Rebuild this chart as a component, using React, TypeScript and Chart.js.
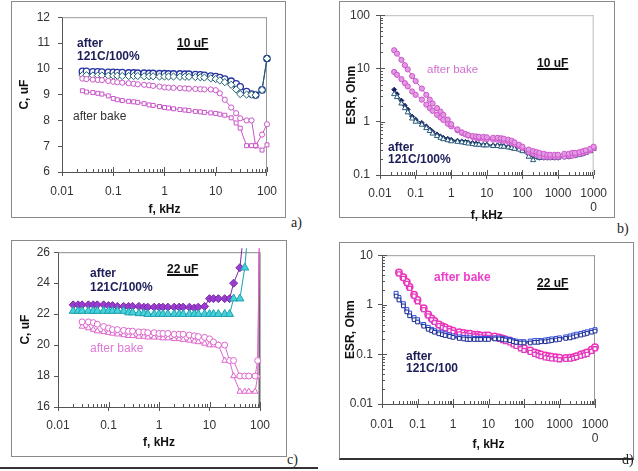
import { useEffect, useRef } from 'react'
import { Chart, registerables } from 'chart.js'
import type { Plugin } from 'chart.js'

Chart.register(...registerables)
Chart.defaults.font.family = '"Liberation Sans", Arial, sans-serif'

// ---- data (frequency in kHz) ----
const FREQ_C10 = [0.025, 0.03, 0.04, 0.05, 0.06, 0.08, 0.1, 0.12, 0.15, 0.2, 0.25, 0.3, 0.4, 0.5, 0.6, 0.8, 1, 1.2, 1.5, 2, 2.5, 3, 4, 5, 6, 8, 10, 12, 15, 20, 25, 30, 40, 50, 60, 80, 100]
const C10_121C_1 = [9.9, 9.9, 9.88, 9.88, 9.87, 9.86, 9.86, 9.85, 9.85, 9.84, 9.84, 9.83, 9.83, 9.82, 9.82, 9.81, 9.81, 9.8, 9.8, 9.8, 9.79, 9.79, 9.78, 9.77, 9.75, 9.72, 9.7, 9.66, 9.6, 9.52, 9.42, 9.3, 9.12, 9.02, 8.98, 9.18, 10.4]
const C10_121C_2 = [9.75, 9.75, 9.74, 9.74, 9.74, 9.73, 9.73, 9.73, 9.72, 9.72, 9.72, 9.72, 9.71, 9.71, 9.71, 9.7, 9.7, 9.7, 9.7, 9.69, 9.69, 9.69, 9.68, 9.67, 9.66, 9.63, 9.6, 9.55, 9.48, 9.38, 9.2, 9.02, 9.0, 9.0, 8.98, 9.18, 10.4]
const C10_BAKE_1 = [9.62, 9.6, 9.58, 9.57, 9.56, 9.53, 9.5, 9.48, 9.46, 9.44, 9.42, 9.4, 9.38, 9.36, 9.34, 9.31, 9.28, 9.27, 9.26, 9.25, 9.24, 9.23, 9.22, 9.21, 9.2, 9.2, 9.17, 9.05, 8.8, 8.5, 8.28, 8.08, 8.0, 8.0, 7.02, 7.45, 7.85]
const C10_BAKE_2 = [9.15, 9.1, 9.08, 9.05, 9.02, 8.95, 8.85, 8.8, 8.77, 8.74, 8.72, 8.7, 8.65, 8.6, 8.58, 8.54, 8.5, 8.48, 8.45, 8.42, 8.4, 8.38, 8.35, 8.33, 8.31, 8.29, 8.27, 8.24, 8.2, 8.1, 7.9, 7.7, 7.02, 7.02, 7.02, 6.85, 7.05]

const FREQ_ESR = [0.025, 0.03, 0.04, 0.05, 0.06, 0.08, 0.1, 0.15, 0.2, 0.25, 0.3, 0.4, 0.5, 0.6, 0.8, 1, 1.5, 2, 2.5, 3, 4, 5, 6, 8, 10, 15, 20, 25, 30, 40, 50, 60, 80, 100, 150, 200, 250, 300, 400, 500, 600, 800, 1000, 1500, 2000, 2500, 3000, 4000, 5000, 6000, 8000, 10000]
const ESR10_BAKE_1 = [22, 19, 14.5, 11.5, 9.6, 7.2, 5.8, 4.2, 3.2, 2.6, 2.2, 1.8, 1.55, 1.35, 1.1, 0.9, 0.72, 0.63, 0.59, 0.56, 0.54, 0.53, 0.52, 0.52, 0.51, 0.5, 0.5, 0.49, 0.48, 0.46, 0.44, 0.41, 0.37, 0.34, 0.3, 0.28, 0.27, 0.26, 0.25, 0.24, 0.24, 0.24, 0.24, 0.25, 0.25, 0.26, 0.26, 0.27, 0.28, 0.29, 0.31, 0.34]
const ESR10_BAKE_2 = [8.6, 7.6, 6.3, 5.3, 4.6, 3.7, 3.2, 2.6, 2.1, 1.8, 1.6, 1.35, 1.2, 1.08, 0.92, 0.82, 0.69, 0.62, 0.58, 0.55, 0.52, 0.5, 0.49, 0.48, 0.47, 0.46, 0.46, 0.45, 0.44, 0.42, 0.4, 0.38, 0.35, 0.32, 0.27, 0.25, 0.24, 0.23, 0.22, 0.22, 0.22, 0.22, 0.22, 0.22, 0.23, 0.23, 0.24, 0.25, 0.26, 0.27, 0.29, 0.32]
const ESR10_121C_1 = [4.0, 3.3, 2.5, 2.0, 1.7, 1.25, 1.1, 0.95, 0.82, 0.72, 0.65, 0.58, 0.53, 0.5, 0.48, 0.46, 0.44, 0.43, 0.42, 0.41, 0.4, 0.39, 0.38, 0.37, 0.37, 0.36, 0.36, 0.35, 0.35, 0.34, 0.33, 0.32, 0.31, 0.29, 0.25, 0.23, 0.22, 0.21, 0.21, 0.21, 0.21, 0.21, 0.21, 0.22, 0.22, 0.23, 0.23, 0.24, 0.25, 0.27, 0.29, 0.32]
const ESR10_121C_2 = [3.3, 2.9, 2.2, 1.8, 1.5, 1.15, 1.0, 0.88, 0.76, 0.67, 0.6, 0.54, 0.5, 0.47, 0.45, 0.43, 0.42, 0.41, 0.4, 0.39, 0.38, 0.37, 0.37, 0.36, 0.36, 0.35, 0.35, 0.34, 0.34, 0.33, 0.32, 0.31, 0.3, 0.28, 0.22, 0.19, 0.22, 0.21, 0.21, 0.21, 0.21, 0.21, 0.21, 0.22, 0.22, 0.23, 0.23, 0.24, 0.25, 0.26, 0.28, 0.31]

const FREQ_C22 = [0.02, 0.025, 0.03, 0.04, 0.05, 0.06, 0.08, 0.1, 0.12, 0.15, 0.2, 0.25, 0.3, 0.4, 0.5, 0.6, 0.8, 1, 1.2, 1.5, 2, 2.5, 3, 4, 5, 6, 8, 10, 12, 15, 20, 25, 30, 40, 50, 60, 80, 90, 100]
const C22_121C_1 = [22.6, 22.6, 22.6, 22.6, 22.6, 22.6, 22.6, 22.55, 22.55, 22.5, 22.5, 22.5, 22.5, 22.5, 22.45, 22.45, 22.45, 22.45, 22.45, 22.45, 22.45, 22.45, 22.45, 22.45, 22.4, 22.45, 22.5, 23, 23, 23, 23, 23, 24, 25, 28, null, null, null, null]
const C22_121C_2 = [22.2, 22.2, 22.2, 22.2, 22.2, 22.2, 22.2, 22.2, 22.2, 22.2, 22.2, 22.1, 22.1, 22.05, 22.05, 22, 22, 22, 22, 22, 22, 22, 22, 22, 22, 22, 22, 22, 22, 22, 22, 22, 23, 23, 25, 28, null, null, null]
const C22_BAKE_1 = [null, null, 21.5, 21.5, 21.45, 21.35, 21.2, 21.1, 21.0, 21.0, 20.95, 20.9, 20.9, 20.85, 20.85, 20.8, 20.8, 20.75, 20.75, 20.75, 20.7, 20.7, 20.7, 20.65, 20.6, 20.55, 20.5, 20.4, 20.2, 20.0, 20.0, 19.0, 19.0, 18.0, 18.0, 18.0, 18.0, 19.0, 30]
const C22_BAKE_2 = [null, null, 21.2, 21.1, 21.0, 20.9, 20.85, 20.8, 20.75, 20.7, 20.65, 20.6, 20.6, 20.55, 20.55, 20.5, 20.5, 20.5, 20.45, 20.45, 20.4, 20.4, 20.35, 20.3, 20.25, 20.2, 20.1, 20.0, 20.0, 20.0, 19.0, 19.0, 18.0, 17.0, 17.0, 17.0, 17.0, 18.0, 30]

const ESR22_BAKE_1 = [null, 4.5, 3.6, 2.9, 2.3, 1.6, 1.25, 0.85, 0.64, 0.53, 0.47, 0.4, 0.37, 0.35, 0.32, 0.3, 0.28, 0.27, 0.26, 0.26, 0.25, 0.25, 0.24, 0.24, 0.24, 0.23, 0.22, 0.21, 0.2, 0.19, 0.17, 0.16, 0.145, 0.135, 0.12, 0.11, 0.105, 0.1, 0.095, 0.092, 0.09, 0.088, 0.086, 0.085, 0.086, 0.088, 0.092, 0.1, 0.105, 0.11, 0.125, 0.14]
const ESR22_BAKE_2 = [null, 4.2, 3.4, 2.7, 2.15, 1.5, 1.15, 0.8, 0.6, 0.5, 0.44, 0.38, 0.35, 0.33, 0.3, 0.28, 0.26, 0.25, 0.245, 0.24, 0.235, 0.23, 0.225, 0.22, 0.22, 0.21, 0.2, 0.19, 0.18, 0.17, 0.155, 0.145, 0.13, 0.12, 0.11, 0.1, 0.095, 0.09, 0.085, 0.083, 0.081, 0.08, 0.078, 0.079, 0.08, 0.083, 0.087, 0.092, 0.097, 0.1, 0.115, 0.13]
const ESR22_121C_1 = [1.7, 1.4, 1.05, 0.8, 0.68, 0.55, 0.5, 0.4, 0.35, 0.32, 0.3, 0.28, 0.27, 0.26, 0.245, 0.235, 0.225, 0.22, 0.215, 0.215, 0.21, 0.21, 0.21, 0.21, 0.21, 0.215, 0.215, 0.21, 0.205, 0.2, 0.19, 0.185, 0.18, 0.18, 0.185, 0.19, 0.19, 0.19, 0.195, 0.2, 0.205, 0.21, 0.215, 0.225, 0.235, 0.245, 0.255, 0.265, 0.275, 0.285, 0.3, 0.315]
const ESR22_121C_2 = [1.5, 1.25, 0.95, 0.72, 0.6, 0.5, 0.45, 0.37, 0.32, 0.3, 0.28, 0.26, 0.25, 0.24, 0.23, 0.22, 0.21, 0.205, 0.2, 0.2, 0.2, 0.2, 0.2, 0.2, 0.2, 0.205, 0.205, 0.2, 0.195, 0.19, 0.18, 0.175, 0.17, 0.17, 0.17, 0.175, 0.175, 0.18, 0.18, 0.185, 0.19, 0.195, 0.2, 0.21, 0.215, 0.225, 0.235, 0.245, 0.255, 0.265, 0.28, 0.295]

// ---- ticks ----
const X_TICKS_C = [0.01, 0.1, 1, 10, 100]
const X_LABELS_C = ['0.01', '0.1', '1', '10', '100']
const X_TICKS_ESR = [0.01, 0.1, 1, 10, 100, 1000, 10000]
const X_LABELS_ESR: (string | string[])[] = ['0.01', '0.1', '1', '10', '100', '1000', ['1000', '0']]
const Y_TICKS_C10 = [6, 7, 8, 9, 10, 11, 12]
const Y_TICKS_ESR10 = [0.1, 1, 10, 100]
const Y_TICKS_C22 = [16, 18, 20, 22, 24, 26]
const Y_TICKS_ESR22 = [0.01, 0.1, 1, 10]

type Series = {
  freq: number[]
  values: (number | null)[]
  color: string
  fill: string
  style: string
  radius: number
  pointWidth?: number
}

type Rect = { left: number; top: number; width: number; height: number }

type PanelCfg = {
  box: Rect
  boxBottom?: string
  canvas: Rect
  plot: { left: number; top: number; right: number; bottom: number }
  bottomPad: number
  xMax: number
  xTicks: number[]
  xLabels: (string | string[])[]
  yLog: boolean
  yMin: number
  yMax: number
  yTicks: number[]
  yTitle: string
  xTickPad: number
  yTickPad: number
  yTitlePad: number
  frame: { top: boolean; right: boolean; color: string; rightColor?: string; rightWidth?: number; yLog: boolean }
  series: Series[]
}

function logMinors(min: number, max: number) {
  const out: number[] = []
  for (let d = min; d < max * 0.999; d *= 10) {
    for (let m = 2; m <= 9; m++) out.push(d * m)
  }
  return out
}

const frameTicks: Plugin = {
  id: 'frameTicks',
  beforeDatasetsDraw(chart, _args, opts: any) {
    const { ctx, chartArea: a } = chart
    const xs: any = chart.scales.x
    const ys: any = chart.scales.y
    ctx.save()
    ctx.lineWidth = 1
    ctx.strokeStyle = opts.color
    ctx.beginPath()
    if (opts.top) {
      ctx.moveTo(a.left, a.top + 0.5)
      ctx.lineTo(a.right, a.top + 0.5)
    }
    ctx.stroke()
    if (opts.right) {
      ctx.strokeStyle = opts.rightColor || opts.color
      ctx.lineWidth = opts.rightWidth || 1
      ctx.beginPath()
      ctx.moveTo(a.right - 0.5, a.top)
      ctx.lineTo(a.right - 0.5, a.bottom)
      ctx.stroke()
    }
    // inner tick marks
    ctx.strokeStyle = '#555'
    ctx.lineWidth = 1
    ctx.beginPath()
    for (const v of logMinors(xs.min, xs.max)) {
      const px = Math.round(xs.getPixelForValue(v)) + 0.5
      ctx.moveTo(px, a.bottom)
      ctx.lineTo(px, a.bottom - 3)
    }
    for (const t of xs.ticks) {
      const px = Math.round(xs.getPixelForValue(t.value)) + 0.5
      ctx.moveTo(px, a.bottom)
      ctx.lineTo(px, a.bottom - 5)
    }
    if (opts.yLog) {
      for (const v of logMinors(ys.min, ys.max)) {
        const py = Math.round(ys.getPixelForValue(v)) + 0.5
        ctx.moveTo(a.left, py)
        ctx.lineTo(a.left + 3, py)
      }
      for (const t of ys.ticks) {
        const py = Math.round(ys.getPixelForValue(t.value)) + 0.5
        ctx.moveTo(a.left, py)
        ctx.lineTo(a.left + 5, py)
      }
    }
    ctx.stroke()
    ctx.restore()
  },
}

function fmt(v: number) {
  return String(v)
}

function Panel({ cfg }: { cfg: PanelCfg }) {
  const canvasRef = useRef<HTMLCanvasElement>(null)

  useEffect(() => {
    if (!canvasRef.current) return
    const cv = cfg.canvas
    const p = cfg.plot
    const chart = new Chart(canvasRef.current, {
      type: 'scatter',
      data: {
        datasets: cfg.series.map(s => ({
          data: s.freq
            .map((f, i) => ({ x: f, y: s.values[i] }))
            .filter(d => d.y !== null) as { x: number; y: number }[],
          showLine: true,
          borderColor: s.color,
          borderWidth: 1,
          pointStyle: s.style as any,
          pointRadius: s.radius,
          pointBorderColor: s.color,
          pointBackgroundColor: s.fill,
          pointBorderWidth: s.pointWidth ?? 1,
          clip: 4,
        })),
      },
      options: {
        responsive: false,
        animation: false,
        events: [],
        layout: {
          padding: {
            left: 0,
            top: p.top - cv.top,
            right: cv.left + cv.width - p.right,
            bottom: cfg.bottomPad,
          },
        },
        plugins: {
          legend: { display: false },
          tooltip: { enabled: false },
          frameTicks: cfg.frame,
        } as any,
        scales: {
          x: {
            type: 'logarithmic',
            min: 0.01,
            max: cfg.xMax,
            afterBuildTicks: (s: any) => {
              s.ticks = cfg.xTicks.map(v => ({ value: v }))
            },
            afterFit: (s: any) => {
              s.height = cv.top + cv.height - cfg.bottomPad - p.bottom
            },
            ticks: {
              autoSkip: false,
              maxRotation: 0,
              padding: cfg.xTickPad,
              color: '#333',
              font: { size: 12 },
              callback: (_v: any, i: number) => cfg.xLabels[i],
            },
            grid: { drawOnChartArea: false, tickLength: 4, color: '#555' },
            border: { color: '#555' },
            title: {
              display: true,
              text: 'f, kHz',
              color: '#111',
              font: { size: 12, weight: 'bold' },
              padding: 0,
            },
          },
          y: {
            type: cfg.yLog ? 'logarithmic' : 'linear',
            min: cfg.yMin,
            max: cfg.yMax,
            afterBuildTicks: (s: any) => {
              s.ticks = cfg.yTicks.map(v => ({ value: v }))
            },
            afterFit: (s: any) => {
              s.width = p.left - cv.left
            },
            ticks: {
              autoSkip: false,
              padding: cfg.yTickPad,
              color: '#333',
              font: { size: 12 },
              callback: (v: any) => fmt(Number(v)),
            },
            grid: { drawOnChartArea: false, tickLength: 4, color: '#555' },
            border: { color: '#555' },
            title: {
              display: true,
              text: cfg.yTitle,
              color: '#111',
              font: { size: 12, weight: 'bold' },
              padding: { top: cfg.yTitlePad, bottom: 0 },
            },
          },
        } as any,
      },
      plugins: [frameTicks],
    })
    return () => chart.destroy()
  }, [cfg])

  const b = cfg.box
  return (
    <>
      <div
        style={{
          position: 'absolute',
          left: b.left,
          top: b.top,
          width: b.width,
          height: b.height,
          boxSizing: 'border-box',
          border: '1px solid #8a8a8a',
          borderBottom: cfg.boxBottom || '1px solid #8a8a8a',
        }}
      />
      <canvas
        ref={canvasRef}
        width={cfg.canvas.width}
        height={cfg.canvas.height}
        style={{ position: 'absolute', left: cfg.canvas.left, top: cfg.canvas.top }}
      />
    </>
  )
}

const NAVY_TEXT = '#1c1c58'

const PANELS: PanelCfg[] = [
  {
    box: { left: 11, top: 1, width: 275, height: 217 },
    canvas: { left: 12, top: 2, width: 273, height: 215 },
    plot: { left: 62, top: 14, right: 274, bottom: 172 },
    bottomPad: 0,
    xMax: 100,
    xTicks: X_TICKS_C,
    xLabels: X_LABELS_C,
    yLog: false,
    yMin: 6,
    yMax: 12,
    yTicks: Y_TICKS_C10,
    yTitle: 'C, uF',
    xTickPad: 8,
    yTickPad: 8,
    yTitlePad: 5,
    frame: { top: true, right: true, color: '#999', yLog: false },
    series: [
      { freq: FREQ_C10, values: C10_BAKE_2, color: '#c955c9', fill: '#fff', style: 'rect', radius: 2.8 },
      { freq: FREQ_C10, values: C10_BAKE_1, color: '#c955c9', fill: '#fff', style: 'circle', radius: 2.6 },
      { freq: FREQ_C10, values: C10_121C_2, color: '#1d5f6c', fill: '#fff', style: 'rectRot', radius: 3.6 },
      { freq: FREQ_C10, values: C10_121C_1, color: '#2433a0', fill: '#fff', style: 'circle', radius: 3.2, pointWidth: 1.3 },
    ],
  },
  {
    box: { left: 339, top: 1, width: 276, height: 217 },
    canvas: { left: 340, top: 2, width: 274, height: 221 },
    plot: { left: 380, top: 14, right: 595, bottom: 175 },
    bottomPad: 0,
    xMax: 10000,
    xTicks: X_TICKS_ESR,
    xLabels: X_LABELS_ESR,
    yLog: true,
    yMin: 0.1,
    yMax: 100,
    yTicks: Y_TICKS_ESR10,
    yTitle: 'ESR, Ohm',
    xTickPad: 7,
    yTickPad: 6,
    yTitlePad: 4,
    frame: { top: true, right: true, color: '#bbb', yLog: true },
    series: [
      { freq: FREQ_ESR, values: ESR10_BAKE_1, color: '#cc55cc', fill: '#e39ae3', style: 'circle', radius: 2.6 },
      { freq: FREQ_ESR, values: ESR10_BAKE_2, color: '#cc55cc', fill: '#e39ae3', style: 'circle', radius: 2.6 },
      { freq: FREQ_ESR, values: ESR10_121C_2, color: '#2a5a7c', fill: '#fff', style: 'triangle', radius: 3 },
      { freq: FREQ_ESR, values: ESR10_121C_1, color: '#16205c', fill: '#16205c', style: 'rectRot', radius: 2.4 },
    ],
  },
  {
    box: { left: 11, top: 240, width: 276, height: 217 },
    canvas: { left: 12, top: 241, width: 274, height: 215 },
    plot: { left: 58, top: 252, right: 260, bottom: 407 },
    bottomPad: 6,
    xMax: 100,
    xTicks: X_TICKS_C,
    xLabels: X_LABELS_C,
    yLog: false,
    yMin: 16,
    yMax: 26,
    yTicks: Y_TICKS_C22,
    yTitle: 'C, uF',
    xTickPad: 7,
    yTickPad: 4,
    yTitlePad: 6,
    frame: { top: true, right: true, color: '#888', rightColor: '#666', rightWidth: 2, yLog: false },
    series: [
      { freq: FREQ_C22, values: C22_BAKE_1, color: '#dd66cc', fill: '#fff', style: 'circle', radius: 3 },
      { freq: FREQ_C22, values: C22_BAKE_2, color: '#dd66cc', fill: '#fff', style: 'triangle', radius: 3.4 },
      { freq: FREQ_C22, values: C22_121C_2, color: '#1f9fae', fill: '#45d2da', style: 'triangle', radius: 4.6 },
      { freq: FREQ_C22, values: C22_121C_1, color: '#7a28a8', fill: '#9a3cd0', style: 'rectRot', radius: 4 },
    ],
  },
  {
    box: { left: 339, top: 242, width: 295, height: 218 },
    boxBottom: '2px solid #333',
    canvas: { left: 340, top: 243, width: 293, height: 215 },
    plot: { left: 382, top: 254, right: 595, bottom: 404 },
    bottomPad: 6,
    xMax: 10000,
    xTicks: X_TICKS_ESR,
    xLabels: X_LABELS_ESR,
    yLog: true,
    yMin: 0.01,
    yMax: 10,
    yTicks: Y_TICKS_ESR22,
    yTitle: 'ESR, Ohm',
    xTickPad: 9,
    yTickPad: 5,
    yTitlePad: 3,
    frame: { top: true, right: true, color: '#999', yLog: true },
    series: [
      { freq: FREQ_ESR, values: ESR22_121C_2, color: '#1a2a92', fill: '#fff', style: 'rect', radius: 2.6 },
      { freq: FREQ_ESR, values: ESR22_121C_1, color: '#2a48d8', fill: '#fff', style: 'rect', radius: 2.8 },
      { freq: FREQ_ESR, values: ESR22_BAKE_2, color: '#e23cc0', fill: '#fff', style: 'rect', radius: 2.8, pointWidth: 1.3 },
      { freq: FREQ_ESR, values: ESR22_BAKE_1, color: '#ee30b8', fill: '#fff', style: 'circle', radius: 3.2, pointWidth: 1.5 },
    ],
  },
]

type NoteCfg = {
  x: number
  y: number
  text: string
  color?: string
  bold?: boolean
  size?: number
  underline?: boolean
  serif?: boolean
}

const NOTES: NoteCfg[] = [
  { x: 77, y: 43, text: 'after', color: NAVY_TEXT, bold: true },
  { x: 77, y: 56, text: '121C/100%', color: NAVY_TEXT, bold: true },
  { x: 177, y: 43, text: '10 uF', color: '#111', bold: true, underline: true },
  { x: 73, y: 116, text: 'after bake', color: '#333' },
  { x: 291, y: 223, text: 'a)', color: '#222', serif: true, size: 14 },

  { x: 427, y: 69, text: 'after bake', color: '#d070d0', size: 11.5 },
  { x: 537, y: 63, text: '10 uF', color: '#111', bold: true, underline: true },
  { x: 388, y: 147, text: 'after', color: NAVY_TEXT, bold: true },
  { x: 388, y: 159, text: '121C/100%', color: NAVY_TEXT, bold: true },
  { x: 617, y: 229, text: 'b)', color: '#222', serif: true, size: 14 },

  { x: 90, y: 273, text: 'after', color: NAVY_TEXT, bold: true },
  { x: 90, y: 287, text: '121C/100%', color: NAVY_TEXT, bold: true },
  { x: 167, y: 269, text: '22 uF', color: '#111', bold: true, underline: true },
  { x: 90, y: 348, text: 'after bake', color: '#e07ad8' },
  { x: 287, y: 460, text: 'c)', color: '#222', serif: true, size: 14 },

  { x: 434, y: 277, text: 'after bake', color: '#ee3ccc', bold: true },
  { x: 537, y: 283, text: '22 uF', color: '#111', bold: true, underline: true },
  { x: 406, y: 356, text: 'after', color: NAVY_TEXT, bold: true },
  { x: 406, y: 368, text: '121C/100', color: NAVY_TEXT, bold: true },
  { x: 622, y: 460, text: 'd)', color: '#222', serif: true, size: 14 },
]

function Note({ n }: { n: NoteCfg }) {
  return (
    <div
      style={{
        position: 'absolute',
        left: n.x,
        top: n.y - 8,
        height: 16,
        lineHeight: '16px',
        whiteSpace: 'nowrap',
        color: n.color,
        fontFamily: n.serif ? '"Liberation Serif", "DejaVu Serif", serif' : '"Liberation Sans", Arial, sans-serif',
        fontSize: n.size ?? 12,
        fontWeight: n.bold ? 'bold' : 'normal',
        textDecoration: n.underline ? 'underline' : 'none',
        textDecorationThickness: n.underline ? '2px' : undefined,
      }}
    >
      {n.text}
    </div>
  )
}

export default function App() {
  return (
    <div
      style={{
        position: 'absolute',
        left: 0,
        top: 0,
        width: 638,
        height: 471,
        background: '#fff',
        overflow: 'hidden',
      }}
    >
      {PANELS.map((cfg, i) => (
        <Panel key={i} cfg={cfg} />
      ))}
      <div style={{ position: 'absolute', left: 0, top: 467, width: 318, height: 2, background: '#333' }} />
      {NOTES.map((n, i) => (
        <Note key={i} n={n} />
      ))}
    </div>
  )
}
